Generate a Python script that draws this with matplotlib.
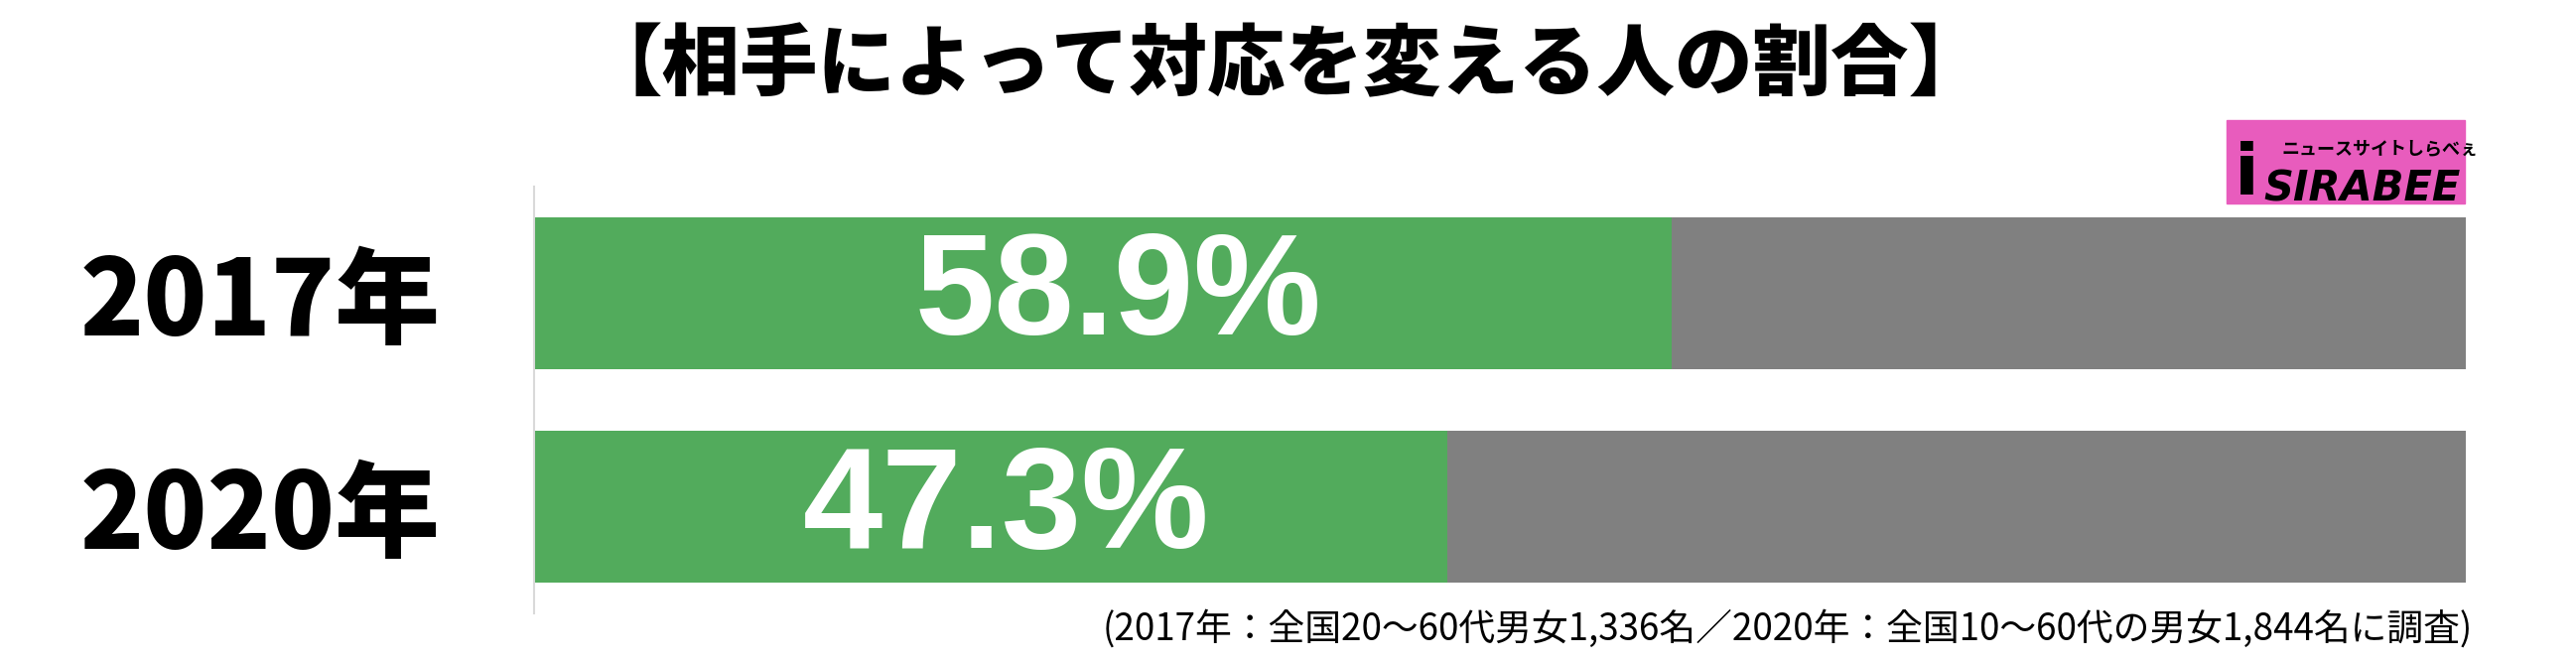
import matplotlib.pyplot as plt
from matplotlib.patches import Rectangle

plt.rcParams['font.family'] = ['Noto Sans CJK JP', 'DejaVu Sans']

# data
years = ['2017年', '2020年']
values = [58.9, 47.3]
total = 100
title = '【相手によって対応を変える人の割合】'
note = '(2017年：全国20～60代男女1,336名／2020年：全国10～60代の男女1,844名に調査)'

green = '#52ab5c'
grey = '#808080'

fig = plt.figure(figsize=(25.95, 6.67), dpi=100)
ax = fig.add_axes([0.2073, 0.0735, 0.7499, 0.6446])

pos = range(len(years))
ax.barh(pos, [total] * len(values), height=0.71, color=grey)
ax.barh(pos, values, height=0.71, color=green)

for i, v in enumerate(values):
    ax.text(v / 2 + 0.8, i + 0.02, f'{v}%', color='white', ha='center', va='center',
            fontsize=104, fontweight='bold', family=['Liberation Sans', 'DejaVu Sans'])

ax.set_xlim(0, total)
ax.set_ylim(1.5, -0.5)
ax.set_yticks(list(pos))
ax.set_yticklabels(years, fontsize=76, fontweight='heavy')
ax.tick_params(axis='y', length=0, pad=68)
ax.set_xticks([])
for s in ['top', 'right', 'bottom']:
    ax.spines[s].set_visible(False)
ax.spines['left'].set_color('#d9d9d9')
ax.spines['left'].set_linewidth(1.5)

fig.text(0.499, 0.90, title, ha='center', va='center', fontsize=56.5, fontweight='heavy')
fig.text(0.96, 0.049, note, ha='right', va='center', fontsize=26.5)

# logo
fig.patches.append(Rectangle((2243 / 2595, 1 - 205 / 667), 240 / 2595, 84 / 667,
                             transform=fig.transFigure, color='#e85cbd'))
fig.text(0.872, 0.735, 'i', fontsize=52, fontweight='heavy', ha='center', va='center',
         family=['DejaVu Sans'])
fig.text(0.917, 0.715, 'SIRABEE', fontsize=30, fontweight='heavy', style='italic',
         ha='center', va='center', family=['DejaVu Sans'])
fig.text(0.924, 0.775, 'ニュースサイトしらべぇ', fontsize=13, fontweight='bold',
         ha='center', va='center')

plt.savefig('out.png')
plt.close()
